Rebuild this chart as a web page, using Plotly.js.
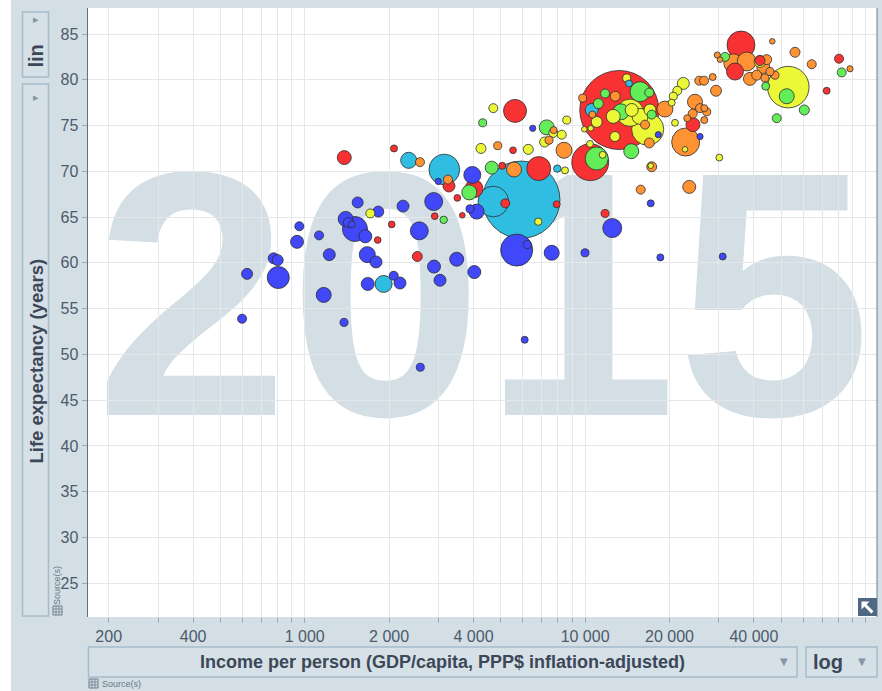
<!DOCTYPE html>
<html>
<head>
<meta charset="utf-8">
<script src="https://cdn.plot.ly/plotly-3.0.1.min.js"></script>
<style>
html,body{margin:0;padding:0;background:#d3dee5;}
#chart{width:882px;height:691px;}
</style>
</head>
<body>
<div id="chart"></div>
<script>
// ---------------- DATA ----------------
// Sub-Saharan Africa
const africaIncome = [1545,1830,1400,1431,1471,1511,1645,957,1125,939,1224,1672,1796,775,801,805,623,1169,1678,598,1381,2996,2884,2242,2563,2892,3484,3038,2077,2187,2584,3960,3886,4106,4026,5702,6221,7601,9993,18550,30960,12500,6089,6504,17140,18240,25690];
const africaLife   = [66.6,65.6,64.8,64.4,64.2,63.7,62.9,64.0,63.0,62.3,60.9,60.9,60.1,60.5,60.3,58.4,58.8,56.5,57.7,53.9,53.5,68.9,66.7,66.2,63.5,59.6,60.4,58.1,58.6,57.8,48.6,69.6,65.9,65.6,59.0,61.4,62.0,61.1,61.1,60.6,60.7,63.8,51.6,74.7,66.5,74.0,73.8];
const africaPop    = [7.4,7.4,22.5,4.9,0.5,96,14,3,3,14,10.4,27.6,10.4,7.4,7.4,69,7.4,22.5,14,3,1.5,0.1,39,10.4,39,14,18,10.4,3,10.4,1.5,33,1.5,22.5,14,178,1.5,22.5,1.5,0.5,0.5,46,0.5,0.1,0.5,0.1,0.1];

// South Asia
const southAsiaIncome = [2349,3147,1912,5922,4706,7958,10560,14340];
const southAsiaLife   = [71.2,70.2,57.7,66.9,66.7,70.3,76.7,79.6];
const southAsiaPop    = [28,161,33,1311,160,0.8,14,0.4];

// Middle East & North Africa
const menaIncome = [3131,4313,7295,4645,3864,11000,14610,15700,16940,11780,11150,13430,17280,31550,44060,52360,60500,48240,82260];
const menaLife   = [64.7,75.3,74.8,70.4,67.7,71.4,72.2,78.7,78.6,78.5,77.4,76.5,76.2,82.5,79.3,78.2,76.7,75.8,80.8];
const menaPop    = [0.9,1.5,22.5,14,22.5,77,22.5,53,3,3,5,27.6,3,3,1.4,22.5,5,3,3];

// America
const americaIncome = [1714,4706,4253,6271,7175,7702,8253,8600,8479,6810,9934,10470,10410,11550,12780,14070,12600,14660,15700,17040,11000,16720,14460,22400,21320,20630,20360,20920,22710,30100,17140,42050,53050];
const americaLife   = [65.4,76.9,72.5,72.4,73.2,74.2,74.0,75.6,70.1,64.5,74.6,74.7,73.0,71.8,73.8,80.2,76.0,76.7,76.0,76.7,75.4,74.6,76.4,79.6,78.8,78.2,77.5,75.3,72.4,71.5,70.6,82.0,79.2];
const americaPop    = [3,3,5,5,5,3,3,1.5,0.5,0.8,0,0,0.4,0.4,5,1.5,18,14,27.6,10.4,7.4,180,120,10.4,3,1.5,0.5,0.4,0,0.4,0,10,330];

// Europe & Central Asia
const europeIncome = [2577,3244,4879,7727,7436,8410,5578,9804,12810,10610,16360,16940,15790,17280,23520,22840,19270,25540,26550,28510,29300,24650,25690,26610,27150,24190,23140,26610,29610,30280,33770,37700,38720,43200,44430,40920,43810,47560,45640,46510,56050,64300,88060];
const europeLife   = [71.0,69.1,72.8,74.5,73.4,72.3,70.2,78.0,78.2,76.2,75.1,73.1,68.0,70.5,68.3,73.2,76.8,79.9,79.9,80.3,78.8,77.6,76.9,76.9,76.5,76.3,75.8,75.6,82.7,82.2,81.8,82.0,80.1,81.4,82.2,80.5,80.2,80.5,80.9,84.2,83.0,81.7,81.2];
const europePop    = [3,3,1.5,0.5,1.5,27.6,22.5,1.5,4.9,0.5,3,4.9,3,4.9,14,128,27.6,3,3,0.5,7.4,22.5,3,0.5,1.5,3,0.5,0.5,0.1,0,45,45,14,14,4.9,4.9,1.5,1.5,1.5,0,4.9,3,0.1];

// East Asia & Pacific
const eastAsiaIncome = [1384,2082,3271,3501,2909,3648,2043,1821,2521,4016,5067,5624,6832,5193,7919,5533,10430,11780,13240,24250,35970,34240,42050,80460,72700];
const eastAsiaLife   = [71.5,72.5,68.4,67.1,65.1,65.2,64.2,62.5,60.7,68.1,70.6,76.6,70.3,66.5,66.4,72.3,71.0,65.4,76.7,75.1,83.8,80.9,82.1,82.3,78.8];
const eastAsiaPop    = [18,0.5,10.4,0.3,0.3,0,0.3,0.3,4.9,39,0.5,77,86,3,0.5,0.3,250,1.5,1376,18,127,33,4.9,3,0.4];

// Axis ticks
const xTickVals = [200,300,400,500,600,700,800,900,1000,2000,3000,4000,5000,6000,7000,8000,9000,10000,20000,30000,40000,50000,60000,70000,80000,90000,100000];
const xTickText = ['200','','400','','','','','','1 000','2 000','','4 000','','','','','','10 000','20 000','','40 000','','','','','',''];
const yTickVals = [25,30,35,40,45,50,55,60,65,70,75,80,85];
const yearLabel = '2015';
const xTitle = 'Income per person (GDP/capita, PPP$ inflation-adjusted)';
const yTitle = 'Life expectancy (years)';

// ---------------- STYLE ----------------
const regions = [
  {inc: africaIncome,    life: africaLife,    pop: africaPop,    color: '#4048fa'},
  {inc: southAsiaIncome, life: southAsiaLife, pop: southAsiaPop, color: '#30bde2'},
  {inc: menaIncome,      life: menaLife,      pop: menaPop,      color: '#63ee59'},
  {inc: americaIncome,   life: americaLife,   pop: americaPop,   color: '#eaf838'},
  {inc: europeIncome,    life: europeLife,    pop: europePop,    color: '#ff9333'},
  {inc: eastAsiaIncome,  life: eastAsiaLife,  pop: eastAsiaPop,  color: '#f83232'}
];

let pts = [];
regions.forEach(r => r.inc.forEach((v, i) => pts.push({x: v, y: r.life[i], p: r.pop[i], c: r.color})));
pts.sort((a, b) => b.p - a.p);   // big bubbles drawn first

const bubbles = {
  type: 'scatter', mode: 'markers',
  x: pts.map(d => d.x), y: pts.map(d => d.y),
  marker: {
    size: pts.map(d => 5.6 + 1.98 * Math.sqrt(d.p)),
    sizemode: 'diameter', sizeref: 1,
    color: pts.map(d => d.c),
    opacity: 1,
    line: {color: 'rgba(45,45,45,0.8)', width: 1}
  },
  hoverinfo: 'skip'
};

const L = 88, R = 5, T = 8, B = 74, W = 882, H = 691;
const PW = W - L - R, PH = H - T - B;
const X = p => (p - L) / PW;
const Y = p => (H - B - p) / PH;
const font = 'Liberation Sans, Arial, sans-serif';
const boxLine = '#a6bccb';
const textCol = '#3c4757';

function box(x0, y0, x1, y1) {
  return {type: 'rect', xref: 'paper', yref: 'paper', x0: X(x0), x1: X(x1), y0: Y(y1), y1: Y(y0),
          fillcolor: 'rgba(255,255,255,0.08)', line: {color: boxLine, width: 1.5}};
}
function pathPx(points) {
  return 'M ' + points.map(p => X(p[0]) + ',' + Y(p[1])).join(' L ') + ' Z';
}
function gridIcon(x, y) {
  const s = 9, c = '#6f7f8f';
  const out = [{type: 'rect', xref: 'paper', yref: 'paper', x0: X(x), x1: X(x + s), y0: Y(y + s), y1: Y(y),
                fillcolor: 'rgba(0,0,0,0)', line: {color: c, width: 1}}];
  [3, 6].forEach(o => {
    out.push({type: 'line', xref: 'paper', yref: 'paper', x0: X(x + o), x1: X(x + o), y0: Y(y + s), y1: Y(y), line: {color: c, width: 0.8}});
    out.push({type: 'line', xref: 'paper', yref: 'paper', x0: X(x), x1: X(x + s), y0: Y(y + o), y1: Y(y + o), line: {color: c, width: 0.8}});
  });
  return out;
}

const shapes = [
  {type: 'rect', xref: 'paper', yref: 'paper', x0: X(100), x1: X(866), y0: Y(397), y1: Y(125),
   layer: 'below', fillcolor: 'rgba(0,0,0,0)', line: {width: 0},
   label: {text: '<b>' + yearLabel + '</b>', textposition: 'middle center',
           font: {family: font, size: 349, color: '#d3dee5'}}},
  {type: 'rect', xref: 'paper', yref: 'paper', x0: X(0), x1: X(11), y0: Y(691), y1: Y(0), fillcolor: '#ffffff', line: {width: 0}},
  box(22.5, 12, 48.5, 77),
  box(22.5, 84, 48.5, 616),
  box(88.5, 647, 797, 677),
  box(806, 647, 877, 677),
  {type: 'line', xref: 'paper', yref: 'paper', x0: 1, x1: 1, y0: 0, y1: 1, line: {color: '#6b7f91', width: 1}},
  {type: 'rect', xref: 'paper', yref: 'paper', x0: X(858), x1: X(877), y0: Y(616), y1: Y(598), fillcolor: '#4f6984', line: {width: 0}},
  {type: 'path', xref: 'paper', yref: 'paper', fillcolor: '#ffffff', line: {width: 0},
   path: pathPx([[861.5,601.5],[869.5,601.5],[866.6,604.4],[873.5,611.3],[871.3,613.5],[864.4,606.6],[861.5,609.5]])},
  ...gridIcon(53, 606),
  ...gridIcon(89, 679)
];

function ann(x, y, text, size, opts) {
  return Object.assign({xref: 'paper', yref: 'paper', x: X(x), y: Y(y), text: text, showarrow: false,
    xanchor: 'center', yanchor: 'middle', font: {family: font, size: size, color: textCol}}, opts || {});
}
const triCol = '#8497a8';
const annotations = [
  ann(35.5, 56, '<b>lin</b>', 20, {textangle: -90}),
  ann(35.5, 20, '▸', 11, {font: {family: 'DejaVu Sans', size: 11, color: triCol}}),
  ann(35.5, 361, '<b>' + yTitle + '</b>', 18.5, {textangle: -90}),
  ann(35.5, 97, '▸', 11, {font: {family: 'DejaVu Sans', size: 11, color: triCol}}),
  ann(57, 586, 'Source(s)', 9, {textangle: -90, font: {family: font, size: 9, color: '#6a7888'}}),
  ann(442, 662, '<b>' + xTitle + '</b>', 18),
  ann(784, 661, '▼', 10, {font: {family: 'DejaVu Sans', size: 10, color: triCol}}),
  ann(828, 662, '<b>log</b>', 20),
  ann(862, 661, '▼', 10, {font: {family: 'DejaVu Sans', size: 10, color: triCol}}),
  ann(100, 684, 'Source(s)', 9, {xanchor: 'left', font: {family: font, size: 9, color: '#6a7888'}})
];

const layout = {
  width: W, height: H,
  margin: {l: L, r: R, t: T, b: B, pad: 0},
  paper_bgcolor: '#d3dee5',
  plot_bgcolor: '#ffffff',
  showlegend: false,
  xaxis: {
    type: 'log', range: [2.2272, 5.041], fixedrange: true,
    tickmode: 'array', tickvals: xTickVals, ticktext: xTickText,
    ticks: 'outside', ticklen: 5, tickcolor: '#9aaab8', tickwidth: 1,
    showgrid: true, gridcolor: '#e6e7e8', gridwidth: 1,
    zeroline: false, showline: false,
    tickfont: {family: font, size: 16, color: '#4d5a6a'}
  },
  yaxis: {
    range: [21.32, 87.84], fixedrange: true,
    tickmode: 'array', tickvals: yTickVals,
    ticks: 'outside', ticklen: 5, tickcolor: '#9aaab8', tickwidth: 1,
    showgrid: true, gridcolor: '#e6e7e8', gridwidth: 1,
    zeroline: false, showline: true, linecolor: '#5f7385', linewidth: 1.5,
    tickfont: {family: font, size: 16, color: '#4d5a6a'}
  },
  shapes: shapes,
  annotations: annotations
};

Plotly.newPlot('chart', [bubbles], layout, {displayModeBar: false, staticPlot: true});
</script>
</body>
</html>
